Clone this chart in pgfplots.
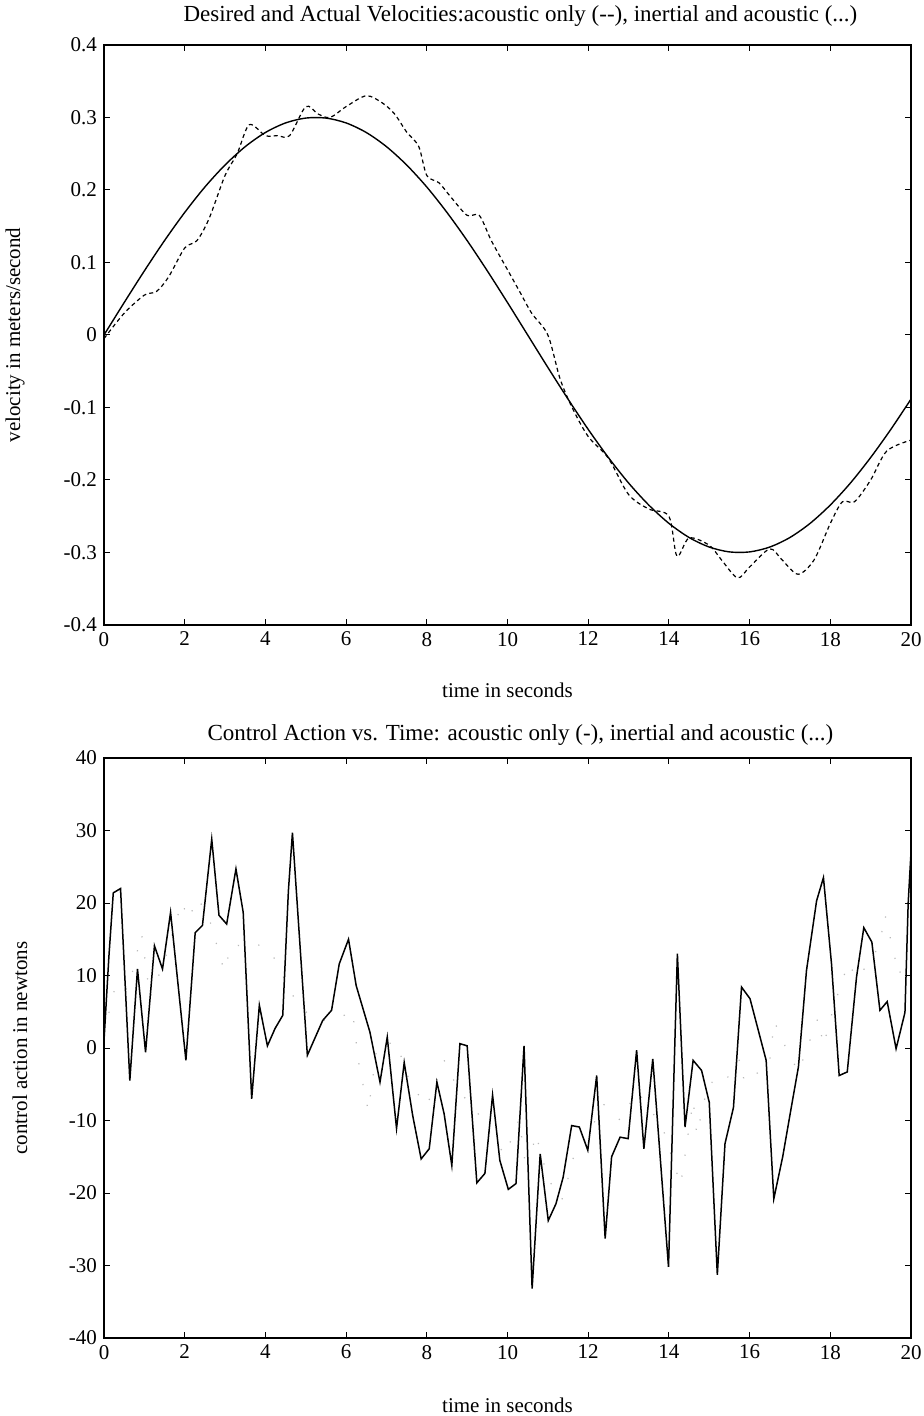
\documentclass[border=0pt]{standalone}
\usepackage{pgfplots}
\pgfplotsset{compat=1.18}
\usepackage{fontspec}
\setmainfont{Liberation Serif}
\begin{document}
\begin{tikzpicture}
\path[use as bounding box] (0,0) rectangle (461.5pt,708pt);
\pgfplotsset{
  myax/.style={
    scale only axis, width=403.5pt, height=290pt,
    xmin=0, xmax=20,
    xtick={0,2,...,20},
    xticklabels={0,2,4,6,8,10,12,14,16,18,20},
    tick align=inside,
    major tick length=3pt,
    axis line style={line width=0.6pt},
    every tick/.style={black, line width=0.5pt},
    tick label style={font=\fontsize{10.5}{12}\selectfont},
    label style={font=\fontsize{10.5}{12}\selectfont},
    title style={font=\fontsize{11.5}{13}\selectfont},
    /pgf/number format/assume math mode=true,
  }
}
% ---------------- top axis ----------------
\begin{axis}[myax,
  at={(52pt,395.5pt)}, anchor=south west,
  ymin=-0.4, ymax=0.4,
  ytick={-0.4,-0.3,-0.2,-0.1,0,0.1,0.2,0.3,0.4},
  yticklabels={-0.4,-0.3,-0.2,-0.1,0,0.1,0.2,0.3,0.4},
  title={Desired and Actual Velocities:acoustic only (-{}-), inertial and acoustic (...)},
  title style={at={(axis description cs:0.516,1.029)}, anchor=center},
  xlabel={time in seconds},
  xlabel style={at={(axis description cs:0.5,-0.1121)}, anchor=center},
  ylabel={velocity in meters/second},
  ylabel style={at={(axis description cs:-0.1103,0.5)}, anchor=center},
]
\addplot[black, line width=0.7pt, smooth] coordinates {
(0,0) (0.5,0.0447) (1,0.0884) (1.5,0.1302) (2,0.1690) (2.5,0.2041) (3,0.2345)
(3.5,0.2598) (4,0.2793) (4.5,0.2925) (5,0.2992) (5.5,0.2992) (6,0.2925)
(6.5,0.2793) (7,0.2598) (7.5,0.2345) (8,0.2041) (8.5,0.1690) (9,0.1302)
(9.5,0.0884) (10,0.0447) (10.5,0) (11,-0.0447) (11.5,-0.0884) (12,-0.1302)
(12.5,-0.1690) (13,-0.2041) (13.5,-0.2345) (14,-0.2598) (14.5,-0.2793)
(15,-0.2925) (15.5,-0.2992) (16,-0.2992) (16.5,-0.2925) (17,-0.2793)
(17.5,-0.2598) (18,-0.2345) (18.5,-0.2041) (19,-0.1690) (19.5,-0.1302) (20,-0.0884)
};
\addplot[black, line width=0.6pt, smooth, dash pattern=on 2pt off 1.6pt] coordinates {
(0,-0.005) (0.5,0.03) (1,0.055) (1.3,0.06) (1.6,0.08) (2,0.12) (2.3,0.13)
(2.6,0.16) (3,0.22) (3.3,0.25) (3.6,0.29) (4,0.275) (4.3,0.275) (4.6,0.275)
(5,0.315) (5.3,0.305) (5.6,0.30) (6,0.315) (6.5,0.33) (6.9,0.32) (7.2,0.305)
(7.5,0.28) (7.8,0.26) (8,0.22) (8.3,0.21) (8.6,0.19) (9,0.165) (9.3,0.165)
(9.6,0.13) (10,0.09) (10.3,0.06) (10.6,0.03) (11,0.0) (11.3,-0.06) (11.6,-0.10)
(12,-0.14) (12.5,-0.17) (13,-0.22) (13.5,-0.24) (14,-0.25) (14.2,-0.305)
(14.5,-0.28) (15,-0.29) (15.3,-0.31) (15.7,-0.335) (16,-0.32) (16.5,-0.295)
(16.8,-0.31) (17.2,-0.33) (17.6,-0.31) (18,-0.26) (18.3,-0.23) (18.6,-0.23)
(19,-0.20) (19.4,-0.16) (20,-0.145)
};
\end{axis}
% ---------------- bottom axis ----------------
\begin{axis}[myax,
  at={(52pt,39pt)}, anchor=south west,
  ymin=-40, ymax=40,
  ytick={-40,-30,...,40},
  yticklabels={-40,-30,-20,-10,0,10,20,30,40},
  title={Control Action vs. Time: acoustic only (-), inertial and acoustic (...)},
  title style={at={(axis description cs:0.516,1.019)}, anchor=center},
  xlabel={time in seconds},
  xlabel style={at={(axis description cs:0.5,-0.1155)}, anchor=center},
  ylabel={control action in newtons},
  ylabel style={at={(axis description cs:-0.1041,0.5)}, anchor=center},
]
\addplot[gray!55, line width=0.6pt, dash pattern=on 0.6pt off 10pt] coordinates {
(0,2) (0.3,9) (0.6,8) (0.93,15.8) (1.14,7) (1.5,12) (1.93,20.2) (2.09,17.7)
(2.32,20.7) (2.6,18) (2.98,10.6) (3.16,14.3) (3.5,14) (3.76,14.4) (4.13,13.4)
(4.49,9.3) (4.8,6) (5.27,3.7) (5.45,3.8) (5.8,4) (6.16,5.2) (6.3,-1.7)
(6.55,-8.7) (6.77,0.3) (7.24,0.8) (7.6,-5) (8.0,-8) (8.43,-1.7) (8.8,-6)
(9.22,-8.6) (9.6,-12) (9.94,-14.8) (10.29,-9.8) (10.43,-15.5) (10.62,-13.9)
(10.7,-11.8) (11.0,-18) (11.34,-21) (11.47,-19.2) (11.55,-15.9) (12.0,-12)
(12.37,-7.7) (12.8,-10) (13.2,-6) (13.5,-8) (13.88,-11.6) (14.29,-18.9)
(14.6,-7.2) (14.69,-12) (14.98,-4.7) (15.43,-4.9) (15.5,-2.9) (15.78,-1.5)
(15.87,-4.8) (16.49,-2.2) (16.61,3.7) (16.9,0) (17.21,-3.3) (17.7,4.2)
(17.83,0.3) (18.1,6) (18.45,11.8) (18.65,9.6) (19.0,12) (19.23,14.4)
(19.35,18.5) (19.7,10) (20,15)
};
\addplot[black, line width=0.75pt] coordinates {
(0,1) (0.12,12.5) (0.23,21.4) (0.41,22) (0.64,-4.5) (0.83,10.9) (1.03,-0.6)
(1.25,14.1) (1.45,10.9) (1.65,18.7) (2.03,-1.7) (2.26,15.9) (2.44,16.9)
(2.67,28.8) (2.85,18.3) (3.04,17.1) (3.27,24.7) (3.45,18.7) (3.66,-7.0)
(3.85,5.9) (4.05,0.3) (4.24,2.7) (4.43,4.5) (4.57,21.7) (4.67,29.7)
(5.04,-1.0) (5.42,3.8) (5.64,5.2) (5.83,11.6) (6.06,15.0) (6.25,8.6)
(6.59,2.2) (6.84,-4.7) (7.02,1.5) (7.25,-11.1) (7.44,-2.0) (7.65,-9.3)
(7.86,-15.3) (8.06,-13.9) (8.25,-4.7) (8.43,-9.1) (8.62,-16.2) (8.82,0.6)
(9.0,0.3) (9.24,-18.6) (9.44,-17.3) (9.63,-6.5) (9.81,-15.5) (10.02,-19.5)
(10.21,-18.7) (10.41,0.3) (10.61,-33.2) (10.81,-14.6) (11.01,-23.8)
(11.2,-21.5) (11.38,-17.8) (11.59,-10.7) (11.78,-10.9) (11.99,-14.1)
(12.21,-3.8) (12.42,-26.3) (12.58,-15.0) (12.79,-12.3) (12.99,-12.5)
(13.2,-0.3) (13.38,-13.9) (13.6,-1.5) (13.99,-30.2) (14.21,13.0)
(14.4,-10.9) (14.6,-1.7) (14.81,-3.1) (15.0,-7.5) (15.2,-31.3) (15.39,-13.2)
(15.6,-8.2) (15.8,8.4) (16.01,6.8) (16.41,-1.7) (16.6,-20.8) (16.82,-15.0)
(17.02,-8.6) (17.21,-2.6) (17.41,10.7) (17.66,20.3) (17.83,23.5) (18.03,11.6)
(18.22,-3.8) (18.42,-3.3) (18.65,9.8) (18.83,16.6) (19.03,14.6) (19.23,5.2)
(19.41,6.4) (19.63,-0.1) (19.85,4.9) (19.93,20) (20,27)
};
\end{axis}
\end{tikzpicture}
\end{document}
